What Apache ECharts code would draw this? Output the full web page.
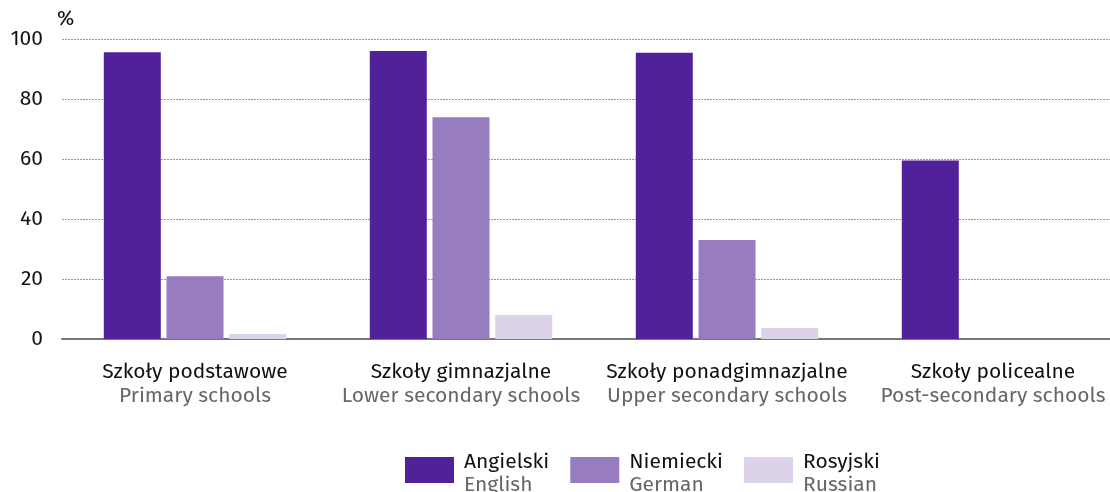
<!DOCTYPE html>
<html>
<head>
<meta charset="utf-8">
<script src="https://cdn.jsdelivr.net/npm/echarts@6/dist/echarts.min.js"></script>
<style>
  html, body { margin: 0; padding: 0; background: #fff; }
  #chart { width: 1110px; height: 492px; }
</style>
</head>
<body>
<div id="chart"></div>
<script>
// Category labels (Polish / English)
const categoriesPl = ['Szkoły podstawowe', 'Szkoły gimnazjalne', 'Szkoły ponadgimnazjalne', 'Szkoły policealne'];
const categoriesEn = ['Primary schools', 'Lower secondary schools', 'Upper secondary schools', 'Post-secondary schools'];

// Series names (Polish / English)
const seriesPl = ['Angielski', 'Niemiecki', 'Rosyjski'];
const seriesEn = ['English', 'German', 'Russian'];

// Share of pupils learning each language, %
const english = [95.6, 96.0, 95.4, 59.5];
const german = [20.9, 73.9, 33.0, null];
const russian = [1.7, 8.0, 3.7, null];

// Y axis ticks
const yMin = 0;
const yMax = 100;
const yStep = 20;

const colors = ['#51219a', '#977cc0', '#dcd3ea'];
const FONT = '"Fira Sans", "Noto Sans", "Open Sans", sans-serif';
const FS = 21;

const chart = echarts.init(document.getElementById('chart'));

const values = [english, german, russian];

chart.setOption({
  animation: false,
  textStyle: { fontFamily: FONT },
  grid: { left: 62, top: 39, width: 1064, height: 300, containLabel: false, outerBoundsMode: 'none' },
  legend: {
    top: 447,
    left: 400,
    itemWidth: 49,
    itemHeight: 26,
    itemGap: 21,
    icon: 'rect',
    selectedMode: false,
    data: seriesPl,
    formatter: function (name) {
      const i = seriesPl.indexOf(name);
      return '{a|' + name + '}\n{b|' + seriesEn[i] + '}';
    },
    textStyle: {
      padding: [8, 0, 0, 5],
      rich: {
        a: { fontSize: FS, color: '#111', lineHeight: 23, fontFamily: FONT },
        b: { fontSize: FS, color: '#666', lineHeight: 23, fontFamily: FONT }
      }
    }
  },
  xAxis: {
    type: 'category',
    data: categoriesPl,
    axisTick: { show: false },
    axisLine: { lineStyle: { color: '#777', width: 2 } },
    axisLabel: {
      margin: 21,
      interval: 0,
      formatter: function (v, i) {
        return '{a|' + v + '}\n{b|' + categoriesEn[i] + '}';
      },
      rich: {
        a: { fontSize: FS, color: '#111', lineHeight: 24, fontFamily: FONT },
        b: { fontSize: FS, color: '#666', lineHeight: 24, fontFamily: FONT }
      }
    }
  },
  yAxis: {
    type: 'value',
    min: yMin,
    max: yMax,
    interval: yStep,
    name: '%',
    nameLocation: 'end',
    nameGap: 9,
    nameTextStyle: { fontSize: FS, color: '#111', align: 'left', padding: [0, 0, 0, -5], fontFamily: FONT },
    axisLine: { show: false },
    axisTick: { show: false },
    axisLabel: { fontSize: FS, color: '#111', margin: 19, fontFamily: FONT },
    splitLine: { lineStyle: { color: '#999', type: [2, 1], width: 1 } }
  },
  series: seriesPl.map(function (name, k) {
    return {
      name: name,
      type: 'bar',
      data: values[k],
      barWidth: 57,
      barGap: '10%',
      itemStyle: { color: colors[k] }
    };
  })
});
</script>
</body>
</html>
